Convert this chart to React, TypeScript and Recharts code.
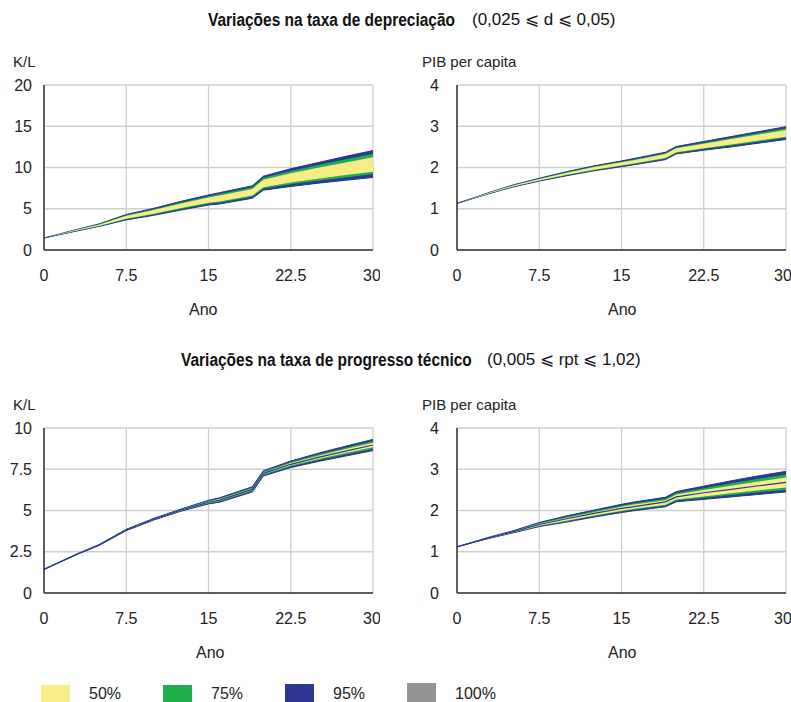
import { ComposedChart, Area, Line, XAxis, YAxis, CartesianGrid } from 'recharts';

const years = [0, 3, 5, 7.5, 10, 12.5, 15, 16, 19, 20, 22.5, 25, 27.5, 30];
const xTicks = [0, 7.5, 15, 22.5, 30];

// Variações na taxa de depreciação - K/L
const depKlLo95 = [1.45, 2.3, 2.85, 3.65, 4.2, 4.85, 5.45, 5.58, 6.27, 7.25, 7.7, 8.1, 8.45, 8.8];
const depKlHi95 = [1.45, 2.5, 3.15, 4.3, 5.05, 5.9, 6.67, 6.95, 7.78, 8.95, 9.85, 10.6, 11.35, 12.05];
const depKlLo75 = [1.45, 2.32, 2.89, 3.73, 4.3, 4.98, 5.6, 5.74, 6.45, 7.45, 7.96, 8.4, 8.8, 9.2];
const depKlHi75 = [1.45, 2.48, 3.11, 4.22, 4.95, 5.77, 6.52, 6.79, 7.6, 8.75, 9.59, 10.3, 11.0, 11.65];
const depKlLo50 = [1.45, 2.35, 2.92, 3.79, 4.39, 5.08, 5.72, 5.87, 6.6, 7.62, 8.17, 8.65, 9.09, 9.5];
const depKlHi50 = [1.45, 2.45, 3.07, 4.14, 4.84, 5.64, 6.37, 6.61, 7.4, 8.52, 9.31, 9.97, 10.62, 11.25];

// Variações na taxa de depreciação - PIB per capita
const depPibLo95 = [1.13, 1.37, 1.52, 1.67, 1.8, 1.92, 2.02, 2.06, 2.19, 2.33, 2.42, 2.5, 2.59, 2.68];
const depPibHi95 = [1.13, 1.4, 1.57, 1.74, 1.9, 2.04, 2.16, 2.21, 2.37, 2.51, 2.63, 2.75, 2.87, 2.99];
const depPibLo75 = [1.13, 1.375, 1.527, 1.68, 1.813, 1.936, 2.04, 2.08, 2.213, 2.353, 2.447, 2.532, 2.626, 2.72];
const depPibHi75 = [1.13, 1.395, 1.563, 1.73, 1.887, 2.024, 2.14, 2.19, 2.347, 2.487, 2.603, 2.718, 2.834, 2.95];
const depPibLo50 = [1.13, 1.378, 1.531, 1.685, 1.822, 1.946, 2.05, 2.093, 2.23, 2.37, 2.466, 2.555, 2.652, 2.748];
const depPibHi50 = [1.13, 1.392, 1.557, 1.723, 1.875, 2.01, 2.125, 2.172, 2.325, 2.465, 2.578, 2.688, 2.8, 2.912];

// Variações na taxa de progresso técnico - K/L
const rptKlLo95 = [1.43, 2.33, 2.88, 3.78, 4.42, 4.96, 5.4, 5.5, 6.12, 7.09, 7.6, 7.97, 8.3, 8.63];
const rptKlHi95 = [1.43, 2.37, 2.93, 3.86, 4.52, 5.09, 5.62, 5.77, 6.44, 7.41, 8.0, 8.47, 8.9, 9.31];
const rptKlLo75 = [1.43, 2.336, 2.888, 3.79, 4.435, 4.98, 5.43, 5.54, 6.17, 7.14, 7.66, 8.05, 8.39, 8.73];
const rptKlHi75 = [1.43, 2.364, 2.922, 3.85, 4.505, 5.07, 5.59, 5.73, 6.39, 7.36, 7.94, 8.4, 8.81, 9.21];
const rptKlLo50 = [1.43, 2.342, 2.895, 3.8, 4.45, 5.0, 5.47, 5.58, 6.22, 7.19, 7.72, 8.12, 8.48, 8.83];
const rptKlHi50 = [1.43, 2.358, 2.915, 3.84, 4.49, 5.05, 5.55, 5.69, 6.34, 7.31, 7.88, 8.32, 8.72, 9.11];
const rptKlMed = [1.43, 2.35, 2.9, 3.82, 4.47, 5.03, 5.5, 5.63, 6.28, 7.25, 7.8, 8.22, 8.6, 8.97];

// Variações na taxa de progresso técnico - PIB per capita
const rptPibLo95 = [1.12, 1.33, 1.45, 1.61, 1.72, 1.84, 1.95, 1.99, 2.09, 2.21, 2.27, 2.33, 2.39, 2.45];
const rptPibHi95 = [1.12, 1.36, 1.5, 1.71, 1.87, 2.01, 2.15, 2.2, 2.32, 2.46, 2.59, 2.72, 2.84, 2.95];
const rptPibLo75 = [1.12, 1.334, 1.456, 1.622, 1.738, 1.86, 1.974, 2.015, 2.118, 2.24, 2.308, 2.377, 2.444, 2.5];
const rptPibHi75 = [1.12, 1.356, 1.493, 1.695, 1.848, 1.985, 2.12, 2.169, 2.286, 2.423, 2.542, 2.662, 2.772, 2.87];
const rptPibLo50 = [1.12, 1.337, 1.461, 1.632, 1.753, 1.877, 1.994, 2.036, 2.14, 2.265, 2.34, 2.416, 2.489, 2.56];
const rptPibHi50 = [1.12, 1.351, 1.485, 1.68, 1.825, 1.959, 2.09, 2.137, 2.25, 2.385, 2.494, 2.603, 2.705, 2.8];
const rptPibMed = [1.12, 1.345, 1.475, 1.66, 1.8, 1.93, 2.05, 2.09, 2.21, 2.33, 2.43, 2.51, 2.6, 2.68];

const legendLabels = ['50%', '75%', '95%', '100%'];
const legendColors = ['#F8EC86', '#1DAF4B', '#2C3893', '#959595'];

const FONT = '"Liberation Sans", Arial, sans-serif';

function buildRows(lo95: number[], hi95: number[], lo75: number[], hi75: number[], lo50: number[], hi50: number[], med?: number[]) {
  return years.map((year, i) => ({
    year,
    // 100% band coincides with the 95% band at this scale
    b100: [lo95[i], hi95[i]],
    b95: [lo95[i], hi95[i]],
    b75: [lo75[i], hi75[i]],
    b50: [lo50[i], hi50[i]],
    med: med ? med[i] : undefined,
  }));
}

const panels = [
  { key: 'tl', left: 0, top: 70, width: 380, yWidth: 44, tickGap: 12, domain: [0, 20], ticks: [0, 5, 10, 15, 20], rows: buildRows(depKlLo95, depKlHi95, depKlLo75, depKlHi75, depKlLo50, depKlHi50) },
  { key: 'tr', left: 400, top: 70, width: 391, yWidth: 57, tickGap: 18, domain: [0, 4], ticks: [0, 1, 2, 3, 4], rows: buildRows(depPibLo95, depPibHi95, depPibLo75, depPibHi75, depPibLo50, depPibHi50) },
  { key: 'bl', left: 0, top: 413, width: 380, yWidth: 44, tickGap: 12, domain: [0, 10], ticks: [0, 2.5, 5, 7.5, 10], rows: buildRows(rptKlLo95, rptKlHi95, rptKlLo75, rptKlHi75, rptKlLo50, rptKlHi50, rptKlMed) },
  { key: 'br', left: 400, top: 413, width: 391, yWidth: 57, tickGap: 18, domain: [0, 4], ticks: [0, 1, 2, 3, 4], rows: buildRows(rptPibLo95, rptPibHi95, rptPibLo75, rptPibHi75, rptPibLo50, rptPibHi50, rptPibMed) },
];

function FanPanel({ p }: { p: any }) {
  const hasMed = p.rows[0].med !== undefined;
  return (
    <div style={{ position: 'absolute', left: p.left, top: p.top }}>
      <ComposedChart width={p.width} height={220} data={p.rows} margin={{ top: 15, right: p.width - p.yWidth - 329, bottom: 5, left: 0 }}>
        <CartesianGrid stroke="#cfcfcf" strokeWidth={1.3} />
        <XAxis
          type="number"
          dataKey="year"
          domain={[0, 30]}
          ticks={xTicks}
          height={35}
          tickLine={false}
          tickSize={0}
          tickMargin={20}
          axisLine={{ stroke: '#333', strokeWidth: 1.5 }}
          tick={{ fill: '#222', fontSize: 16, fontFamily: FONT }}
        />
        <YAxis
          type="number"
          domain={p.domain}
          ticks={p.ticks}
          width={p.yWidth}
          tickLine={false}
          tickSize={0}
          tickMargin={p.tickGap}
          axisLine={{ stroke: '#333', strokeWidth: 1.5 }}
          tick={{ fill: '#222', fontSize: 16, fontFamily: FONT }}
        />
        <Area type="linear" dataKey="b100" fill={legendColors[3]} fillOpacity={1} stroke="none" isAnimationActive={false} />
        <Area type="linear" dataKey="b95" fill={legendColors[2]} fillOpacity={1} stroke={legendColors[2]} strokeWidth={1} isAnimationActive={false} />
        <Area type="linear" dataKey="b75" fill={legendColors[1]} fillOpacity={1} stroke="none" isAnimationActive={false} />
        <Area type="linear" dataKey="b50" fill={legendColors[0]} fillOpacity={1} stroke="none" isAnimationActive={false} />
        {hasMed && <Line type="linear" dataKey="med" stroke={legendColors[2]} strokeWidth={1.2} dot={false} isAnimationActive={false} />}
      </ComposedChart>
    </div>
  );
}

const txt = (left: number, top: number, text: string, extra: any = {}) => (
  <div style={{ position: 'absolute', left, top, fontFamily: FONT, fontSize: 15, color: '#222', whiteSpace: 'nowrap', lineHeight: 1, ...extra }}>{text}</div>
);

const boldTitle = (left: number, top: number, text: string) => (
  <div style={{ position: 'absolute', left, top, fontFamily: FONT, fontWeight: 'bold', fontSize: 18, color: '#111', whiteSpace: 'nowrap', lineHeight: 1, transform: 'scaleX(0.86)', transformOrigin: 'left top' }}>{text}</div>
);

export default function App() {
  return (
    <div style={{ position: 'absolute', left: 0, top: 0, width: 791, height: 702, background: '#fff', overflow: 'hidden' }}>
      {/* Titles */}
      {boldTitle(208, 11, 'Variações na taxa de depreciação')}
      {txt(472, 11, '(0,025 ⩽ d ⩽ 0,05)', { fontSize: 17, color: '#111' })}
      {boldTitle(181, 351, 'Variações na taxa de progresso técnico')}
      {txt(487, 351, '(0,005 ⩽ rpt ⩽ 1,02)', { fontSize: 17, color: '#111' })}

      {/* Axis titles */}
      {txt(13, 54, 'K/L')}
      {txt(422, 54, 'PIB per capita')}
      {txt(13, 397, 'K/L')}
      {txt(422, 397, 'PIB per capita')}
      {txt(189, 302, 'Ano', { fontSize: 16 })}
      {txt(608, 302, 'Ano', { fontSize: 16 })}
      {txt(196, 645, 'Ano', { fontSize: 16 })}
      {txt(608, 645, 'Ano', { fontSize: 16 })}

      {panels.map((p) => <FanPanel key={p.key} p={p} />)}

      {/* Legend */}
      {legendLabels.map((label, i) => (
        <div key={label}>
          <div style={{ position: 'absolute', left: 41 + i * 122, top: 685 - (i === 3 ? 2 : i === 2 ? 1 : 0), width: 29, height: 20, background: legendColors[i] }} />
          {txt(89 + i * 122, 686, label, { fontSize: 16 })}
        </div>
      ))}
    </div>
  );
}
